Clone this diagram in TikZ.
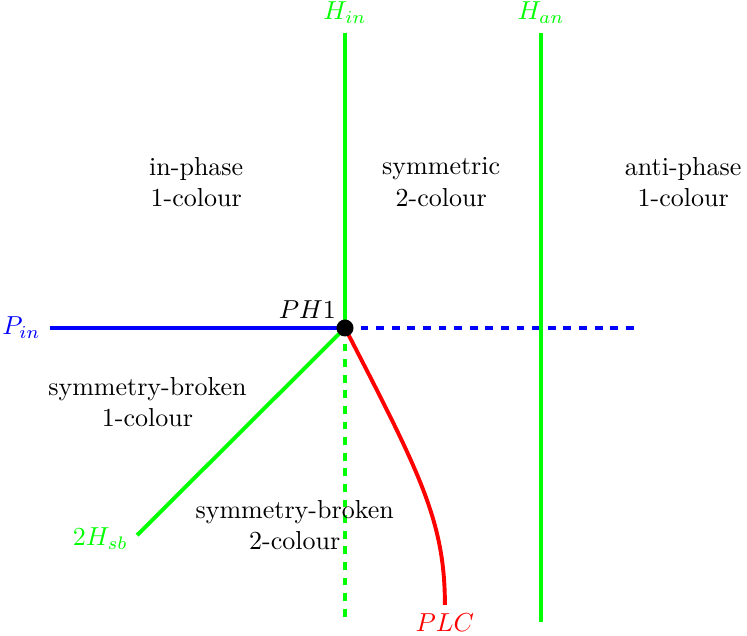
\documentclass[tikz,border=0pt]{standalone}
\usetikzlibrary{calc}
\tikzstyle{branch}=[line width=1.5pt]
\tikzstyle{region}=[align=center]
\tikzstyle{tag}=[inner sep=3.33pt]

\begin{document}
\begin{tikzpicture}
	\useasboundingbox (-4.662,-4.149) rectangle (5.432,4.432);

	\coordinate (ph1) at (0,0);
	\coordinate (pinend) at (-3.99,0);
	\coordinate (pinfar) at (3.91,0);
	\coordinate (hintop) at (0,3.99);
	\coordinate (hinbot) at (0,-3.905);
	\coordinate (hantop) at (2.65,3.99);
	\coordinate (hanbot) at (2.65,-3.97);
	\coordinate (hsbend) at (-2.81,-2.80);
	\coordinate (plcend) at (1.35,-3.74);

	\draw[branch, blue] (pinend) -- (ph1);
	\draw[branch, blue, dashed] (ph1) -- (pinfar);
	\draw[branch, green] (hintop) -- (ph1);
	\draw[branch, green, dashed] (ph1) -- (hinbot);
	\draw[branch, green] (hantop) -- (hanbot);
	\draw[branch, green] (ph1) -- (hsbend);
	\draw[branch, red] (ph1) .. controls (1.0,-1.94) and (1.35,-2.6) .. (plcend);
	\fill (ph1) circle (0.115);

	% line labels
	\node[tag, above left] (ph1lbl) at (ph1) {$PH1$};
	\node[tag, left, text=blue] (pinlbl) at (pinend) {$P_{in}$};
	\node[tag, above, text=green] (hinlbl) at (hintop) {$H_{in}$};
	\node[tag, above, text=green] (hanlbl) at (hantop) {$H_{an}$};
	\node[tag, left, text=green, yshift=-0.05cm] (hsblbl) at (hsbend) {$2H_{sb}$};
	\node[tag, below, text=red] (plclbl) at (plcend) {$PLC$};

	% regions
	\node[region] (inphase) at (-2.01,1.97) {in-phase\\1-colour};
	\node[region] (sym) at (1.30,1.97) {symmetric\\2-colour};
	\node[region] (antiphase) at (4.57,1.97) {anti-phase\\1-colour};
	\node[region] (sbone) at (-2.67,-1.00) {symmetry-broken\\1-colour};
	\node[region] (sbtwo) at (-0.68,-2.66) {symmetry-broken\\2-colour};
\end{tikzpicture}
\end{document}
